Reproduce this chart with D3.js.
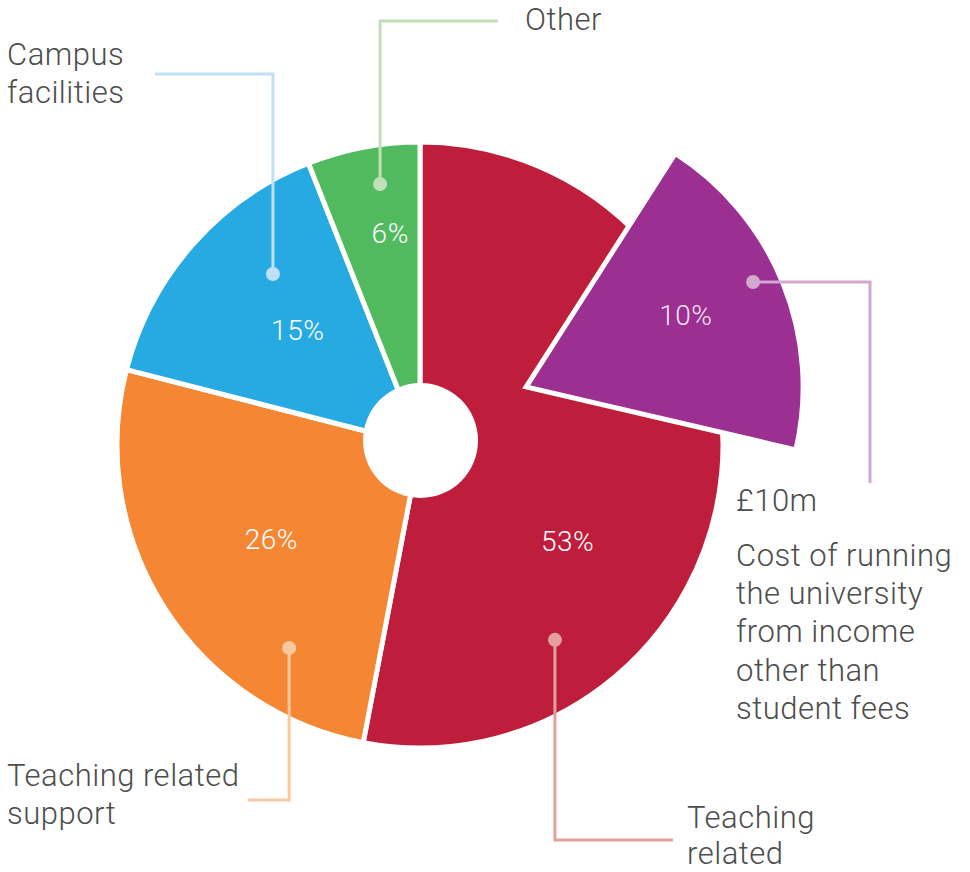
<!DOCTYPE html>
<html>
<head>
<meta charset="utf-8">
<script src="https://cdn.jsdelivr.net/npm/d3@7"></script>
<style>
  body { margin: 0; background: #fff; }
  text { font-family: Roboto, "Open Sans", sans-serif; }
</style>
</head>
<body>
<div id="chart"></div>
<script>
// spending split (percent of total)
const categories = ["Teaching related", "Teaching related support", "Campus facilities", "Other"];
const shares = [53, 26, 15, 6];
const shareLabels = ["53%", "26%", "15%", "6%"];

// highlighted part inside "Teaching related"
const highlightShare = 10;
const highlightStart = 13.85;   // where it sits in the circle, in percent
const highlightLabel = "10%";
const highlightTitle = "£10m";
const highlightText = ["Cost of running", "the university", "from income", "other than", "student fees"];

const colors = ["#be1e3c", "#f58634", "#27a9e1", "#52ba5e"];
const tints = ["#e2a19c", "#fcc8a0", "#bfe0f5", "#c1e0ba"];
const purple = "#9b2f92", purpleTint = "#d2a8cf";

const width = 970, height = 872;
const cx = 420, cy = 445, radius = 303, hole = 57.5;
const deg = Math.PI / 180;
const polar = (a, r) => [r * Math.sin(a), -r * Math.cos(a)];

const svg = d3.select("#chart").append("svg")
    .attr("width", width)
    .attr("height", height)
    .attr("viewBox", [0, 0, width, height]);

const g = svg.append("g").attr("transform", "translate(" + cx + "," + cy + ")");

const pie = d3.pie().sort(null).value(d => d);
const arcs = pie(shares);
const arc = d3.arc().innerRadius(0).outerRadius(radius);

g.selectAll(".slice")
  .data(arcs)
  .enter().append("path")
    .attr("class", "slice")
    .attr("d", arc)
    .attr("fill", (d, i) => colors[i])
    .attr("stroke", "#fff")
    .attr("stroke-width", 5)
    .attr("stroke-linejoin", "round");

// exploded, magnified wedge for the highlighted share
const zoomFactor = 1.96;
const hMid = (highlightStart + highlightShare / 2) / 100 * 2 * Math.PI;
const hHalf = highlightShare / 100 * Math.PI * zoomFactor;
const explode = polar(61.3 * deg, 121);
const hArc = d3.arc().innerRadius(0).outerRadius(277)
    .startAngle(hMid - hHalf).endAngle(hMid + hHalf);

const hg = g.append("g").attr("transform", "translate(" + explode + ")");
hg.append("path")
    .attr("d", hArc())
    .attr("fill", purple)
    .attr("stroke", "#fff")
    .attr("stroke-width", 5)
    .attr("stroke-linejoin", "miter");

// hole
svg.append("circle")
    .attr("cx", cx + 0.5).attr("cy", cy - 4.5)
    .attr("r", hole)
    .attr("fill", "#fff");

// percentage labels
const labelPos = [{da: 27.6, r: 176}, {da: 0, r: 176}, {da: 1.9, r: 168}, {da: 2.8, r: 214}];
g.selectAll(".pct")
  .data(arcs)
  .enter().append("text")
    .attr("class", "pct")
    .attr("transform", (d, i) => {
      const a = (d.startAngle + d.endAngle) / 2 + labelPos[i].da * deg;
      return "translate(" + polar(a, labelPos[i].r) + ")";
    })
    .attr("dy", "0.35em")
    .attr("text-anchor", "middle")
    .attr("fill", "#fff")
    .style("font-size", "28px")
    .style("font-weight", 300)
    .style("letter-spacing", "0.5px")
    .text((d, i) => shareLabels[i]);

hg.append("text")
    .attr("transform", "translate(" + polar(hMid - 2 * deg, 175) + ")")
    .attr("dy", "0.35em")
    .attr("text-anchor", "middle")
    .attr("fill", "#fff")
    .attr("fill-opacity", 0.9)
    .style("font-size", "28px")
    .style("font-weight", 300)
    .style("letter-spacing", "0.5px")
    .text(highlightLabel);

// callouts: dot on the slice, elbow line, text
const callouts = [
  {i: 0, a: 145.3, r: 237, y: 840, x: 673, tx: 687, ty: 817, lh: 36.5, lines: ["Teaching", "related"]},
  {i: 1, a: 212.8, r: 241.6, y: 800, x: 248, tx: 7, ty: 775, lh: 38.3, lines: ["Teaching related", "support"]},
  {i: 2, a: 319.3, r: 225.5, y: 74, x: 155, tx: 7, ty: 54, lh: 38.3, lines: ["Campus", "facilities"]},
  {i: 3, a: 351.3, r: 264, y: 21, x: 498, tx: 525, ty: 19, lh: 38.3, lines: ["Other"]}
];

function addText(x, y, lines, lh) {
  const t = svg.append("text")
      .attr("fill", "#4d4d4d")
      .style("font-size", "31px")
      .style("font-weight", 300)
      .style("letter-spacing", "0.5px");
  lines.forEach((l, k) => {
    t.append("tspan").attr("x", x).attr("y", y + k * lh).attr("dy", "0.35em").text(l);
  });
}

callouts.forEach(c => {
  const p = polar(c.a * deg, c.r);
  const px = cx + p[0], py = cy + p[1];
  svg.append("path")
      .attr("d", d3.line()([[px, py], [px, c.y], [c.x, c.y]]))
      .attr("fill", "none")
      .attr("stroke", tints[c.i])
      .attr("stroke-width", 3);
  svg.append("circle")
      .attr("cx", px).attr("cy", py).attr("r", 7)
      .attr("fill", tints[c.i]);
  addText(c.tx, c.ty, c.lines, c.lh);
});

// highlighted callout
const hp = polar(65.2 * deg, 250);
const hx = cx + explode[0] + hp[0], hy = cy + explode[1] + hp[1];
svg.append("path")
    .attr("d", d3.line()([[hx, hy], [870, hy], [870, 483]]))
    .attr("fill", "none")
    .attr("stroke", purpleTint)
    .attr("stroke-width", 3);
svg.append("circle")
    .attr("cx", hx).attr("cy", hy).attr("r", 7)
    .attr("fill", purpleTint);

addText(736, 500, [highlightTitle], 38.3);
addText(736, 555, highlightText, 38.3);
</script>
</body>
</html>
